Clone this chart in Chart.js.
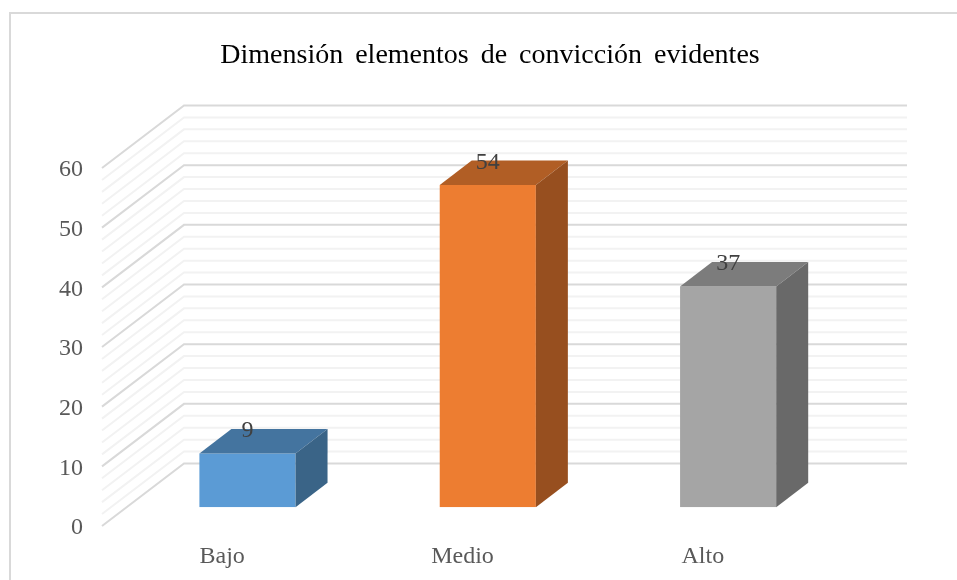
<!DOCTYPE html>
<html>
<head>
<meta charset="utf-8">
<title>Dimensión elementos de convicción evidentes</title>
<script src="https://cdn.jsdelivr.net/npm/chart.js@4/dist/chart.umd.min.js"></script>
<style>
html, body { margin: 0; padding: 0; background: #fff; }
#wrap { position: relative; width: 957px; height: 580px; overflow: hidden; }
#frame { position: absolute; left: 9px; top: 12px; width: 960px; height: 600px; border: 2px solid #d9d9d9; box-sizing: border-box; }
#grafico { position: absolute; left: 0; top: 0; }
</style>
</head>
<body>
<div id="wrap">
<div id="frame"></div>
<canvas id="grafico" width="957" height="580"></canvas>
</div>
<script>
const titulo = 'Dimensión elementos de convicción evidentes';
const categorias = ['Bajo', 'Medio', 'Alto'];
const valores = [9, 54, 37];
const coloresFrente = ['#5b9bd5', '#ed7d31', '#a5a5a5'];
const coloresArriba = ['#44749f', '#b15e25', '#7c7c7c'];
const coloresLado = ['#3a6487', '#974f1f', '#696969'];
const yMin = 0;
const yMax = 60;
const yPaso = 10;
const yPasoMenor = 2;

// 3D look: bars sit a bit behind the front plane, back wall further behind
const fondo = { x: 82, y: -62.5, extraDerecha: 2 };
const plano = { x: 25.3, y: -18.7 };
const prof = { x: 32, y: -24.5 };

const grilla3d = {
    id: 'grilla3d',
    beforeDraw(chart) {
        // the title has wide gaps between its words
        chart.ctx.wordSpacing = '5px';
    },
    beforeDatasetsDraw(chart) {
        const ctx = chart.ctx;
        const y = chart.scales.y;
        const area = chart.chartArea;

        for (let v = yMin; v <= yMax; v += yPasoMenor) {
            const py = y.getPixelForValue(v);
            const mayor = v % yPaso === 0;
            ctx.beginPath();
            ctx.moveTo(area.left, py);
            ctx.lineTo(area.left + fondo.x, py + fondo.y);
            ctx.lineTo(area.right + fondo.x + fondo.extraDerecha, py + fondo.y);
            ctx.lineWidth = 2;
            ctx.strokeStyle = mayor ? '#d9d9d9' : '#f2f2f2';
            ctx.stroke();
        }

        ctx.save();
        ctx.translate(plano.x, plano.y);
    },
    afterDatasetsDraw(chart) {
        const ctx = chart.ctx;
        const barras = chart.getDatasetMeta(0).data;

        barras.forEach((b, i) => {
            const izq = b.x - b.width / 2;
            const der = b.x + b.width / 2;

            ctx.fillStyle = coloresArriba[i];
            ctx.beginPath();
            ctx.moveTo(izq, b.y);
            ctx.lineTo(izq + prof.x, b.y + prof.y);
            ctx.lineTo(der + prof.x, b.y + prof.y);
            ctx.lineTo(der, b.y);
            ctx.closePath();
            ctx.fill();

            ctx.fillStyle = coloresLado[i];
            ctx.beginPath();
            ctx.moveTo(der, b.y);
            ctx.lineTo(der + prof.x, b.y + prof.y);
            ctx.lineTo(der + prof.x, b.base + prof.y);
            ctx.lineTo(der, b.base);
            ctx.closePath();
            ctx.fill();

            ctx.font = '24px "Liberation Serif"';
            ctx.fillStyle = '#404040';
            ctx.textAlign = 'center';
            ctx.textBaseline = 'middle';
            ctx.fillText(valores[i], b.x, b.y + prof.y + 2);
        });

        ctx.restore();
    }
};

new Chart(document.getElementById('grafico'), {
    type: 'bar',
    data: {
        labels: categorias,
        datasets: [{
            data: valores,
            backgroundColor: coloresFrente,
            borderWidth: 0,
            categoryPercentage: 1,
            barPercentage: 0.4
        }]
    },
    options: {
        responsive: false,
        animation: false,
        layout: { padding: { left: 23, right: 0, top: 0, bottom: 0 } },
        plugins: {
            legend: { display: false },
            tooltip: { enabled: false },
            title: {
                display: true,
                text: titulo,
                color: '#000000',
                font: { family: '"Liberation Serif"', size: 28, weight: 'normal' },
                padding: { top: 39, bottom: 95.4 }
            }
        },
        scales: {
            x: {
                afterFit(scale) { scale.height = 54; },
                grid: { display: false },
                border: { display: false },
                ticks: {
                    color: '#595959',
                    padding: 8,
                    font: { family: '"Liberation Serif"', size: 24 }
                }
            },
            y: {
                min: yMin,
                max: yMax,
                afterFit(scale) { scale.width = 79; },
                grid: { display: false },
                border: { display: false },
                ticks: {
                    stepSize: yPaso,
                    color: '#595959',
                    padding: 11,
                    labelOffset: 2,
                    font: { family: '"Liberation Serif"', size: 24 }
                }
            },
            // empty axis, only keeps room for the back wall on the right
            derecha: {
                position: 'right',
                afterFit(scale) { scale.width = 134; },
                grid: { display: false },
                border: { display: false },
                ticks: { display: false }
            }
        }
    },
    plugins: [grilla3d]
});
</script>
</body>
</html>
